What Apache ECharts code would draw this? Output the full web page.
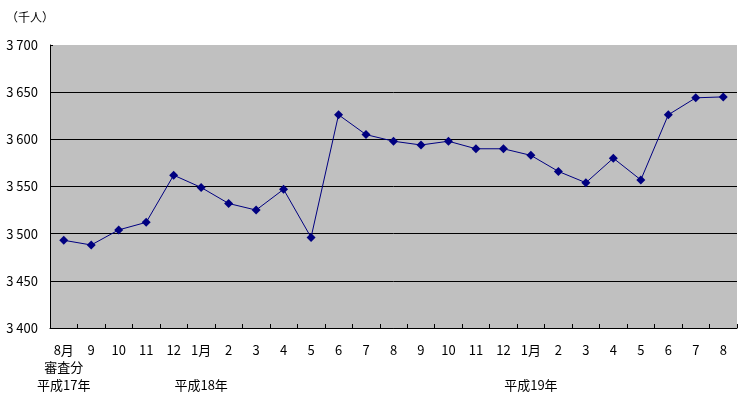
<!DOCTYPE html>
<html>
<head>
<meta charset="utf-8">
<script src="https://cdn.jsdelivr.net/npm/echarts@6/dist/echarts.min.js"></script>
<style>
html,body{margin:0;padding:0;background:#fff;}
#chart{width:744px;height:397px;}
</style>
</head>
<body>
<div id="chart"></div>
<script>
const categories = ["8月\n審査分\n平成17年","9","10","11","12","1月\n\n平成18年","2","3","4","5","6","7","8","9","10","11","12","1月\n\n平成19年","2","3","4","5","6","7","8"];
const values = [3493,3488,3504,3512,3562,3549,3532,3525,3547,3496,3626,3605,3598,3594,3598,3590,3590,3583,3566,3554,3580,3557,3626,3644,3645];
const unitLabel = "（千人）";
const yMin = 3400, yMax = 3700, yStep = 50;

const FONT = "'Noto Sans CJK JP', sans-serif";
const chart = echarts.init(document.getElementById('chart'));
chart.setOption({
  animation: false,
  backgroundColor: '#fff',
  grid: {left: 50, right: 7, top: 45, bottom: 69, show: true, backgroundColor: '#C0C0C0', borderColor: '#808080', borderWidth: 0},
  graphic: [{type: 'text', left: 6, top: 11, style: {text: unitLabel, font: '12px ' + FONT, fill: '#000'}}],
  xAxis: {
    type: 'category', data: categories, boundaryGap: true,
    axisLine: {lineStyle: {color: '#000', width: 1}},
    axisTick: {show: true, inside: true, length: 4, lineStyle: {color: '#000'}},
    axisLabel: {interval: 0, color: '#000', fontFamily: FONT, fontSize: 13, lineHeight: 17.5, margin: 13}
  },
  yAxis: {
    type: 'value', min: yMin, max: yMax, interval: yStep,
    axisLine: {show: true, lineStyle: {color: '#000', width: 1}},
    axisTick: {show: true, inside: true, length: 3, lineStyle: {color: '#000'}},
    splitLine: {show: true, lineStyle: {color: ['#000','#000','#000','#000','#000','#000','#C0C0C0'], width: 1}},
    axisLabel: {color: '#000', fontFamily: FONT, fontSize: 13, margin: 12,
      formatter: v => { const s = String(v); return s.slice(0, s.length - 3) + ' ' + s.slice(-3); }}
  },
  series: [{
    type: 'line', data: values, symbol: 'diamond', symbolSize: 9,
    lineStyle: {color: '#000080', width: 1},
    itemStyle: {color: '#000080'}
  }]
});
</script>
</body>
</html>
